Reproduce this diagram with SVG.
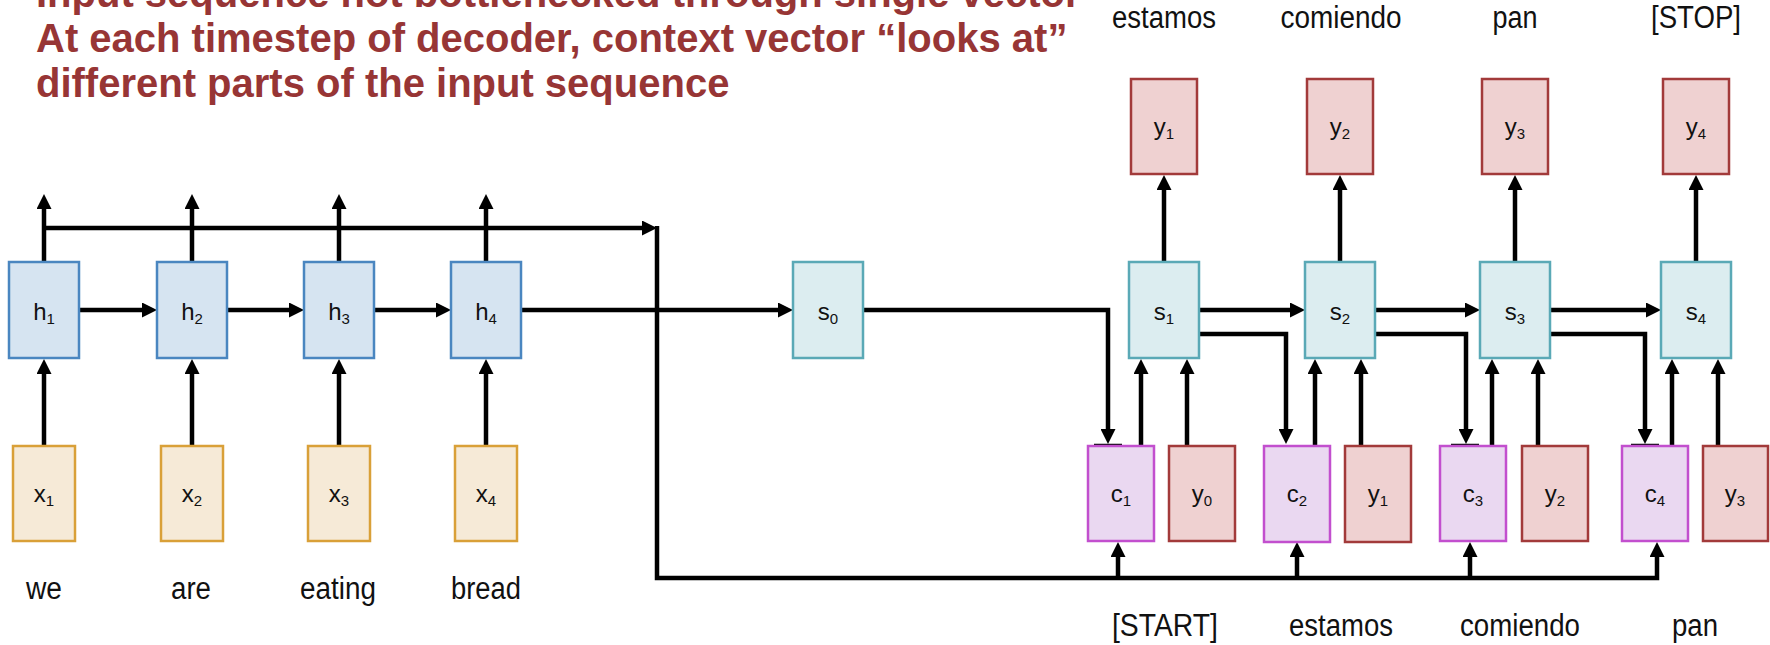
<svg xmlns="http://www.w3.org/2000/svg" width="1770" height="645" viewBox="0 0 1770 645">
<style>
.title{font-family:"Liberation Sans",Arial,sans-serif;font-weight:bold;font-size:40px;fill:#973535}
.lbl{font-family:"Liberation Sans",Arial,sans-serif;font-size:24px;fill:#111;text-anchor:middle}
.sub{font-size:15px}
.word{font-family:"Liberation Sans",Arial,sans-serif;font-size:31px;fill:#111;text-anchor:middle}
.h{fill:#d6e4f1;stroke:#4a86c0;stroke-width:2.5}
.x{fill:#f6ead7;stroke:#d9a038;stroke-width:2.5}
.s{fill:#dcedf0;stroke:#5aa9b6;stroke-width:2.5}
.y{fill:#efd1d1;stroke:#a23a3a;stroke-width:2.5}
.c{fill:#ead8f1;stroke:#c24fce;stroke-width:2.5}
.ln{fill:none;stroke:#000;stroke-width:4.5}
.ar{fill:none;stroke:#000;stroke-width:4.5;marker-end:url(#ah)}
.tick{stroke:#000;stroke-width:1.5}
</style>
<defs>
<marker id="ah" markerUnits="userSpaceOnUse" markerWidth="15" markerHeight="15" viewBox="0 0 15 15" refX="5" refY="7.5" orient="auto"><path d="M0,0 L15,7.5 L0,15 z" fill="#000"/></marker>
</defs>

<g id="title">
<text class="title" x="36" y="7">Input sequence not bottlenecked through single vector</text>
<text class="title" x="36" y="52">At each timestep of decoder, context vector “looks at”</text>
<text class="title" x="36" y="97">different parts of the input sequence</text>
</g>

<g id="connectors">
<path class="ar" d="M44 446V369"/>
<path class="ar" d="M192 446V369"/>
<path class="ar" d="M339 446V369"/>
<path class="ar" d="M486 446V369"/>
<path class="ar" d="M44 262V204"/>
<path class="ar" d="M192 262V204"/>
<path class="ar" d="M339 262V204"/>
<path class="ar" d="M486 262V204"/>
<path class="ar" d="M79 310H147"/>
<path class="ar" d="M227 310H294"/>
<path class="ar" d="M374 310H441"/>
<path class="ar" d="M42 228H647"/>
<path class="ar" d="M657 226V578H1657V552"/>
<path class="ar" d="M1118 578V552"/>
<path class="ar" d="M1297 578V552"/>
<path class="ar" d="M1470 578V552"/>
<path class="ar" d="M521 310H783"/>
<path class="ar" d="M863 310H1108V434"/>
<path class="ar" d="M1199 334H1286V434"/>
<path class="ar" d="M1375 334H1466V434"/>
<path class="ar" d="M1550 334H1645V434"/>
<path class="ar" d="M1199 310H1295"/>
<path class="ar" d="M1375 310H1470"/>
<path class="ar" d="M1550 310H1651"/>
<path class="ar" d="M1141 446V369"/>
<path class="ar" d="M1187 446V369"/>
<path class="ar" d="M1315 446V369"/>
<path class="ar" d="M1361 446V369"/>
<path class="ar" d="M1492 446V369"/>
<path class="ar" d="M1538 446V369"/>
<path class="ar" d="M1672 446V369"/>
<path class="ar" d="M1718 446V369"/>
<path class="ar" d="M1164 262V185"/>
<path class="ar" d="M1340 262V185"/>
<path class="ar" d="M1515 262V185"/>
<path class="ar" d="M1696 262V185"/>
<line class="tick" x1="1094" y1="444.5" x2="1122" y2="444.5"/>
<line class="tick" x1="1451" y1="444.5" x2="1479" y2="444.5"/>
<line class="tick" x1="1631" y1="444.5" x2="1659" y2="444.5"/>
</g>

<g id="h1"><rect class="h" x="9" y="262" width="70" height="96"/><text class="lbl" x="44" y="320">h<tspan class="sub" dy="4">1</tspan></text></g>
<g id="h2"><rect class="h" x="157" y="262" width="70" height="96"/><text class="lbl" x="192" y="320">h<tspan class="sub" dy="4">2</tspan></text></g>
<g id="h3"><rect class="h" x="304" y="262" width="70" height="96"/><text class="lbl" x="339" y="320">h<tspan class="sub" dy="4">3</tspan></text></g>
<g id="h4"><rect class="h" x="451" y="262" width="70" height="96"/><text class="lbl" x="486" y="320">h<tspan class="sub" dy="4">4</tspan></text></g>

<g id="x1"><rect class="x" x="13" y="446" width="62" height="95"/><text class="lbl" x="44" y="502">x<tspan class="sub" dy="4">1</tspan></text></g>
<g id="x2"><rect class="x" x="161" y="446" width="62" height="95"/><text class="lbl" x="192" y="502">x<tspan class="sub" dy="4">2</tspan></text></g>
<g id="x3"><rect class="x" x="308" y="446" width="62" height="95"/><text class="lbl" x="339" y="502">x<tspan class="sub" dy="4">3</tspan></text></g>
<g id="x4"><rect class="x" x="455" y="446" width="62" height="95"/><text class="lbl" x="486" y="502">x<tspan class="sub" dy="4">4</tspan></text></g>

<g id="s0"><rect class="s" x="793" y="262" width="70" height="96"/><text class="lbl" x="828" y="320">s<tspan class="sub" dy="4">0</tspan></text></g>
<g id="s1"><rect class="s" x="1129" y="262" width="70" height="96"/><text class="lbl" x="1164" y="320">s<tspan class="sub" dy="4">1</tspan></text></g>
<g id="s2"><rect class="s" x="1305" y="262" width="70" height="96"/><text class="lbl" x="1340" y="320">s<tspan class="sub" dy="4">2</tspan></text></g>
<g id="s3"><rect class="s" x="1480" y="262" width="70" height="96"/><text class="lbl" x="1515" y="320">s<tspan class="sub" dy="4">3</tspan></text></g>
<g id="s4"><rect class="s" x="1661" y="262" width="70" height="96"/><text class="lbl" x="1696" y="320">s<tspan class="sub" dy="4">4</tspan></text></g>

<g id="yo1"><rect class="y" x="1131" y="79" width="66" height="95"/><text class="lbl" x="1164" y="135">y<tspan class="sub" dy="4">1</tspan></text></g>
<g id="yo2"><rect class="y" x="1307" y="79" width="66" height="95"/><text class="lbl" x="1340" y="135">y<tspan class="sub" dy="4">2</tspan></text></g>
<g id="yo3"><rect class="y" x="1482" y="79" width="66" height="95"/><text class="lbl" x="1515" y="135">y<tspan class="sub" dy="4">3</tspan></text></g>
<g id="yo4"><rect class="y" x="1663" y="79" width="66" height="95"/><text class="lbl" x="1696" y="135">y<tspan class="sub" dy="4">4</tspan></text></g>

<g id="c1"><rect class="c" x="1088" y="446" width="66" height="95"/><text class="lbl" x="1121" y="502">c<tspan class="sub" dy="4">1</tspan></text></g>
<g id="yi0"><rect class="y" x="1169" y="446" width="66" height="95"/><text class="lbl" x="1202" y="502">y<tspan class="sub" dy="4">0</tspan></text></g>
<g id="c2"><rect class="c" x="1264" y="446" width="66" height="96"/><text class="lbl" x="1297" y="502">c<tspan class="sub" dy="4">2</tspan></text></g>
<g id="yi1"><rect class="y" x="1345" y="446" width="66" height="96"/><text class="lbl" x="1378" y="502">y<tspan class="sub" dy="4">1</tspan></text></g>
<g id="c3"><rect class="c" x="1440" y="446" width="66" height="95"/><text class="lbl" x="1473" y="502">c<tspan class="sub" dy="4">3</tspan></text></g>
<g id="yi2"><rect class="y" x="1522" y="446" width="66" height="95"/><text class="lbl" x="1555" y="502">y<tspan class="sub" dy="4">2</tspan></text></g>
<g id="c4"><rect class="c" x="1622" y="446" width="66" height="95"/><text class="lbl" x="1655" y="502">c<tspan class="sub" dy="4">4</tspan></text></g>
<g id="yi3"><rect class="y" x="1703" y="446" width="65" height="95"/><text class="lbl" x="1735" y="502">y<tspan class="sub" dy="4">3</tspan></text></g>

<g id="words">
<text class="word" x="44" y="599" textLength="36" lengthAdjust="spacingAndGlyphs">we</text>
<text class="word" x="191" y="599" textLength="40" lengthAdjust="spacingAndGlyphs">are</text>
<text class="word" x="338" y="599" textLength="76" lengthAdjust="spacingAndGlyphs">eating</text>
<text class="word" x="486" y="599" textLength="70" lengthAdjust="spacingAndGlyphs">bread</text>
<text class="word" x="1164" y="28" textLength="104" lengthAdjust="spacingAndGlyphs">estamos</text>
<text class="word" x="1341" y="28" textLength="121" lengthAdjust="spacingAndGlyphs">comiendo</text>
<text class="word" x="1515" y="28" textLength="45" lengthAdjust="spacingAndGlyphs">pan</text>
<text class="word" x="1696" y="28" textLength="90" lengthAdjust="spacingAndGlyphs">[STOP]</text>
<text class="word" x="1165" y="636" textLength="106" lengthAdjust="spacingAndGlyphs">[START]</text>
<text class="word" x="1341" y="636" textLength="104" lengthAdjust="spacingAndGlyphs">estamos</text>
<text class="word" x="1520" y="636" textLength="120" lengthAdjust="spacingAndGlyphs">comiendo</text>
<text class="word" x="1695" y="636" textLength="46" lengthAdjust="spacingAndGlyphs">pan</text>
</g>
</svg>
